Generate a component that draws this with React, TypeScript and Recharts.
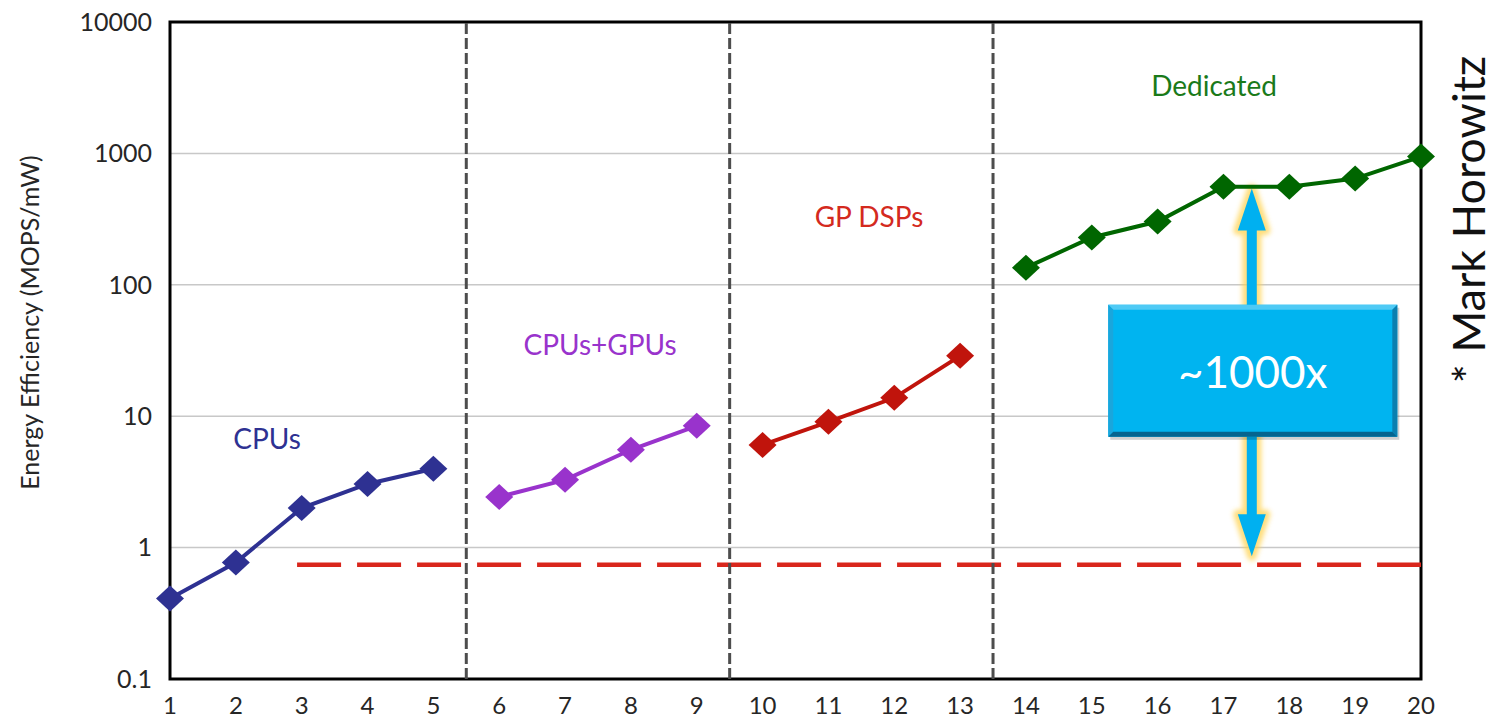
import React from 'react';
import {
  LineChart,
  Line,
  XAxis,
  YAxis,
  CartesianGrid,
  ReferenceLine,
  ReferenceArea,
  ReferenceDot,
} from 'recharts';

// x positions (tick labels) and the four groups of measured designs
const xTicks = [1, 2, 3, 4, 5, 6, 7, 8, 9, 10, 11, 12, 13, 14, 15, 16, 17, 18, 19, 20];
const yTicks = [0.1, 1, 10, 100, 1000, 10000];

const cpusX = [1, 2, 3, 4, 5];
const cpus = [0.41, 0.77, 2.0, 3.05, 3.98];

const cpusGpusX = [6, 7, 8, 9];
const cpusGpus = [2.43, 3.28, 5.55, 8.45];

const gpDspsX = [10, 11, 12, 13];
const gpDsps = [6.05, 9.06, 13.8, 28.8];

const dedicatedX = [14, 15, 16, 17, 18, 19, 20];
const dedicated = [135, 229, 303, 558, 558, 643, 946];

// group separators and the baseline shown dashed in red
const separators = [5.5, 9.5, 13.5];
const baseline = 0.74;
const baselineStart = 2.93;

// ~1000x annotation (arrow and box), in data units
const arrowX = [17.13, 17.73];
const arrowY = [0.86, 540];
const boxX = [15.25, 19.64];
const boxY = [6.97, 70.5];

const FONT = 'Lato, "Open Sans", sans-serif';

const data = xTicks.map((x) => {
  const row: any = { x };
  const i1 = cpusX.indexOf(x);
  if (i1 >= 0) row.cpus = cpus[i1];
  const i2 = cpusGpusX.indexOf(x);
  if (i2 >= 0) row.cpusGpus = cpusGpus[i2];
  const i3 = gpDspsX.indexOf(x);
  if (i3 >= 0) row.gpDsps = gpDsps[i3];
  const i4 = dedicatedX.indexOf(x);
  if (i4 >= 0) row.dedicated = dedicated[i4];
  return row;
});

const diamond = (color: string) => (props: any) => {
  const { cx, cy, index } = props;
  if (cx == null || cy == null || isNaN(cy)) return <g key={`e-${index}`} />;
  const w = 14;
  const h = 13;
  return (
    <path
      key={`d-${index}`}
      d={`M${cx},${cy - h} L${cx + w},${cy} L${cx},${cy + h} L${cx - w},${cy} Z`}
      fill={color}
    />
  );
};

const ArrowShape = (props: any) => {
  const { x, y, width, height } = props;
  const cx = x + width / 2;
  const top = y;
  const bot = y + height;
  const hw = 5;
  const hh = 14;
  const hl = 42;
  const d = `M${cx},${top} L${cx + hh},${top + hl} L${cx + hw},${top + hl} L${cx + hw},${bot - hl} L${cx + hh},${bot - hl} L${cx},${bot} L${cx - hh},${bot - hl} L${cx - hw},${bot - hl} L${cx - hw},${top + hl} L${cx - hh},${top + hl} Z`;
  return (
    <g>
      <defs>
        <filter id="glow" x="-50%" y="-10%" width="200%" height="120%">
          <feGaussianBlur stdDeviation="2.5" />
        </filter>
      </defs>
      <path d={d} fill="none" stroke="#ffd24d" strokeWidth={9} strokeLinejoin="round" opacity={0.75} filter="url(#glow)" />
      <path d={d} fill="#00b0f0" />
    </g>
  );
};

const BoxShape = (props: any) => {
  const { x, y, width, height } = props;
  const b = 5;
  return (
    <g>
      <rect x={x + 2} y={y + 3} width={width} height={height} fill="rgba(0,0,0,0.18)" />
      <rect x={x} y={y} width={width} height={height} fill="#00b4f0" />
      <path d={`M${x},${y} L${x + width},${y} L${x + width - b},${y + b} L${x + b},${y + b} Z`} fill="#4fcaf5" />
      <path d={`M${x},${y} L${x + b},${y + b} L${x + b},${y + height - b} L${x},${y + height} Z`} fill="#1aa6dc" />
      <path d={`M${x + width},${y} L${x + width},${y + height} L${x + width - b},${y + height - b} L${x + width - b},${y + b} Z`} fill="#0a7fb0" />
      <path d={`M${x},${y + height} L${x + b},${y + height - b} L${x + width - b},${y + height - b} L${x + width},${y + height} Z`} fill="#05648f" />
      <text
        x={x + width / 2}
        y={y + height / 2}
        textAnchor="middle"
        dominantBaseline="central"
        fill="#ffffff"
        fontSize={44}
        fontFamily={FONT}
      >
        ~1000x
      </text>
    </g>
  );
};

const groupLabel = (value: string, fill: string) => ({
  value,
  position: 'center' as const,
  fill,
  fontSize: 28,
  fontFamily: FONT,
});

export default function App() {
  return (
    <div style={{ position: 'absolute', left: 0, top: 0, width: 1497, height: 720, background: '#fff' }}>
      <LineChart width={1497} height={720} data={data} margin={{ top: 22, right: 0, left: 0, bottom: 0 }}>
        <CartesianGrid vertical={false} stroke="#c8c8c8" strokeWidth={1.5} />
        <XAxis
          dataKey="x"
          type="number"
          domain={[1, 20]}
          ticks={xTicks}
          height={41}
          axisLine={false}
          tickLine={false}
          tickSize={0}
          tickMargin={18}
          tick={{ fontSize: 24, fill: '#262626', fontFamily: FONT }}
        />
        <YAxis
          scale="log"
          domain={[0.1, 10000]}
          ticks={yTicks}
          allowDataOverflow
          width={170}
          axisLine={false}
          tickLine={false}
          tickSize={0}
          tickMargin={18}
          tick={{ fontSize: 25, fill: '#262626', fontFamily: FONT }}
          tickFormatter={(v: number) => String(v)}
          label={{
            value: 'Energy Efficiency (MOPS/mW)',
            angle: -90,
            position: 'center',
            dx: -55,
            dy: -28,
            fontSize: 25,
            fill: '#262626',
            fontFamily: FONT,
          }}
        />
        <YAxis
          yAxisId="note"
          orientation="right"
          width={76}
          tick={false}
          axisLine={false}
          tickLine={false}
          label={{
            value: '* Mark Horowitz',
            angle: -90,
            position: 'center',
            dx: 10,
            dy: -131,
            fontSize: 45,
            fill: '#111',
            fontFamily: FONT,
          }}
        />

        <ReferenceLine
          segment={[
            { x: baselineStart, y: baseline },
            { x: 20, y: baseline },
          ]}
          stroke="#d9261c"
          strokeWidth={4.5}
          strokeDasharray="44 16"
        />
        {separators.map((s) => (
          <ReferenceLine key={s} x={s} stroke="#4d4d4d" strokeWidth={3} strokeDasharray="11 4" />
        ))}

        <ReferenceArea
          x1={1}
          x2={20}
          y1={0.1}
          y2={10000}
          fill="none"
          stroke="#000"
          strokeWidth={3}
          fillOpacity={0}
        />

        <ReferenceArea x1={arrowX[0]} x2={arrowX[1]} y1={arrowY[0]} y2={arrowY[1]} shape={ArrowShape} />
        <ReferenceArea x1={boxX[0]} x2={boxX[1]} y1={boxY[0]} y2={boxY[1]} shape={BoxShape} />

        <ReferenceDot x={2.473} y={6.73} r={0} fill="none" stroke="none" label={groupLabel('CPUs', '#2e3192')} />
        <ReferenceDot x={7.531} y={35} r={0} fill="none" stroke="none" label={groupLabel('CPUs+GPUs', '#9933cc')} />
        <ReferenceDot x={11.617} y={330} r={0} fill="none" stroke="none" label={groupLabel('GP DSPs', '#d42a1e')} />
        <ReferenceDot x={16.857} y={3283} r={0} fill="none" stroke="none" label={groupLabel('Dedicated', '#1a7a1a')} />

        <Line dataKey="cpus" type="linear" stroke="#2e3192" strokeWidth={4} dot={diamond('#2e3192')} activeDot={false} isAnimationActive={false} />
        <Line dataKey="cpusGpus" type="linear" stroke="#9933cc" strokeWidth={4} dot={diamond('#9933cc')} activeDot={false} isAnimationActive={false} />
        <Line dataKey="gpDsps" type="linear" stroke="#c0140c" strokeWidth={4} dot={diamond('#c0140c')} activeDot={false} isAnimationActive={false} />
        <Line dataKey="dedicated" type="linear" stroke="#006600" strokeWidth={4} dot={diamond('#006600')} activeDot={false} isAnimationActive={false} />
      </LineChart>
    </div>
  );
}
